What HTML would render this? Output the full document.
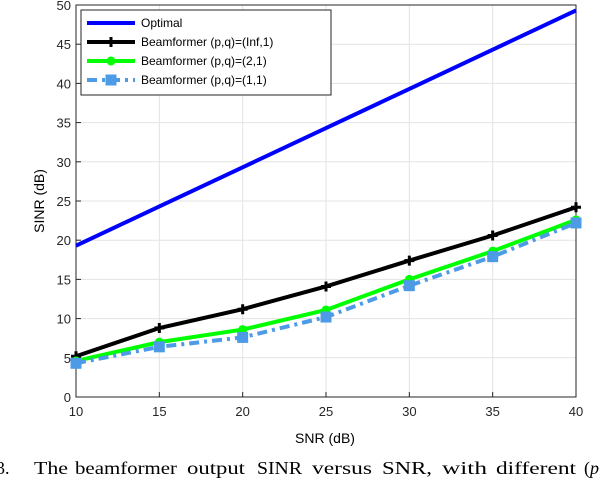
<!DOCTYPE html>
<html><head><meta charset="utf-8"><style>
body{margin:0;background:#fff;width:610px;height:480px;overflow:hidden}
svg text{font-family:"Liberation Sans",sans-serif}
svg .cap text{font-family:"Liberation Serif",serif}
</style></head><body>
<svg id="chart" width="610" height="480">
<g id="grid"></g><g id="axes"></g><g id="series"></g><g id="legend"></g>
<text x="325" y="443" font-size="14" text-anchor="middle">SNR (dB)</text>
<text x="0" y="0" font-size="14" text-anchor="middle" transform="translate(44,201) rotate(-90)">SINR (dB)</text>
<g class="cap" font-size="18">
<text x="-4" y="474">3.</text>
<text x="34" y="474" textLength="34" lengthAdjust="spacingAndGlyphs">The</text>
<text x="75" y="474" textLength="102" lengthAdjust="spacingAndGlyphs">beamformer</text>
<text x="187" y="474" textLength="58" lengthAdjust="spacingAndGlyphs">output</text>
<text x="257" y="474" textLength="45" lengthAdjust="spacingAndGlyphs">SINR</text>
<text x="312" y="474" textLength="60" lengthAdjust="spacingAndGlyphs">versus</text>
<text x="382" y="474" textLength="50" lengthAdjust="spacingAndGlyphs">SNR,</text>
<text x="442" y="474" textLength="45" lengthAdjust="spacingAndGlyphs">with</text>
<text x="496" y="474" textLength="80" lengthAdjust="spacingAndGlyphs">different</text>
<text x="584" y="474">(<tspan font-style="italic">p</tspan></text>
</g>
</svg>
<script>
const snr=[10,15,20,25,30,35,40];
const optimal=[19.3,24.3,29.3,34.3,39.3,44.3,49.3];
const infOne=[5.2,8.8,11.2,14.1,17.4,20.6,24.2];
const twoOne=[4.6,7.0,8.6,11.1,15.0,18.6,22.6];
const oneOne=[4.3,6.4,7.6,10.2,14.2,17.9,22.2];
const xTicks=[10,15,20,25,30,35,40];
const yTicks=[0,5,10,15,20,25,30,35,40,45,50];
const L=76,R=576,T=5,B=397;
const xs=v=>L+(v-10)/30*(R-L), ys=v=>B-v/50*(B-T);
const NS="http://www.w3.org/2000/svg";
function mk(p,tag,a){const e=document.createElementNS(NS,tag);for(const k in a)e.setAttribute(k,a[k]);document.getElementById(p).appendChild(e);return e;}
xTicks.forEach(t=>{
 const g=mk('grid','line',{x1:xs(t),x2:xs(t),y1:T,y2:B,stroke:'#e3e3e3'});
 
 
 const k=mk('axes','line',{x1:xs(t),x2:xs(t),y1:B,y2:B-5,stroke:'#262626'});
 
 
 const tx=mk('axes','text',{x:xs(t),y:B+19,'font-size':13,'text-anchor':'middle',fill:'#262626'});tx.textContent=t;
 
 
});
yTicks.forEach(t=>{
 const g=mk('grid','line',{x1:L,x2:R,y1:ys(t),y2:ys(t),stroke:'#e3e3e3'});
 
 
 const k=mk('axes','line',{x1:L,x2:L+5,y1:ys(t),y2:ys(t),stroke:'#262626'});
 
 
 const tx=mk('axes','text',{x:L-5,y:ys(t)+5,'font-size':13,'text-anchor':'end',fill:'#262626'});tx.textContent=t;
 
 
});
const box=mk('axes','rect',{x:L,y:T,width:R-L,height:B-T,fill:'none',stroke:'#262626'});


function marker(p,type,x,y,c){
 let m;
 if(type==='plus'){m=mk(p,'path',{d:`M${x-5},${y}H${x+5}M${x},${y-5}V${y+5}`,stroke:c,'stroke-width':3});}
 else if(type==='circle'){m=mk(p,'circle',{cx:x,cy:y,r:4.5,fill:c});}
 else if(type==='square'){m=mk(p,'rect',{x:x-5.5,y:y-5.5,width:11,height:11,fill:c});}
 return m;
}
const defs=[
 {name:'optimal',data:optimal,c:'#0000ff',dash:'',m:null,label:'Optimal'},
 {name:'inf-1',data:infOne,c:'#000000',dash:'',m:'plus',label:'Beamformer (p,q)=(Inf,1)'},
 {name:'2-1',data:twoOne,c:'#00ff00',dash:'',m:'circle',label:'Beamformer (p,q)=(2,1)'},
 {name:'1-1',data:oneOne,c:'#4d9be6',dash:'10,5,3,5',m:'square',label:'Beamformer (p,q)=(1,1)'}];
defs.forEach(s=>{
 const pl=mk('series','polyline',{points:snr.map((v,i)=>xs(v)+','+ys(s.data[i])).join(' '),fill:'none',stroke:s.c,'stroke-width':4,'stroke-dasharray':s.dash});
 
 
 if(s.m) snr.forEach((v,i)=>{const m=marker('series',s.m,xs(v),ys(s.data[i]),s.c);
  
  });
});
const lb=mk('legend','rect',{x:81,y:10,width:250,height:85,fill:'#fff',stroke:'#262626'});


defs.forEach((s,i)=>{
 const y=23+i*19;
 const l=mk('legend','line',{x1:87,x2:135,y1:y,y2:y,stroke:s.c,'stroke-width':4,'stroke-dasharray':s.dash});
 
 
 if(s.m){marker('legend',s.m,111,y,s.c);}
 const t=mk('legend','text',{x:141,y:y+4,'font-size':12});t.textContent=s.label;
 
 
});
</script>
</body></html>
